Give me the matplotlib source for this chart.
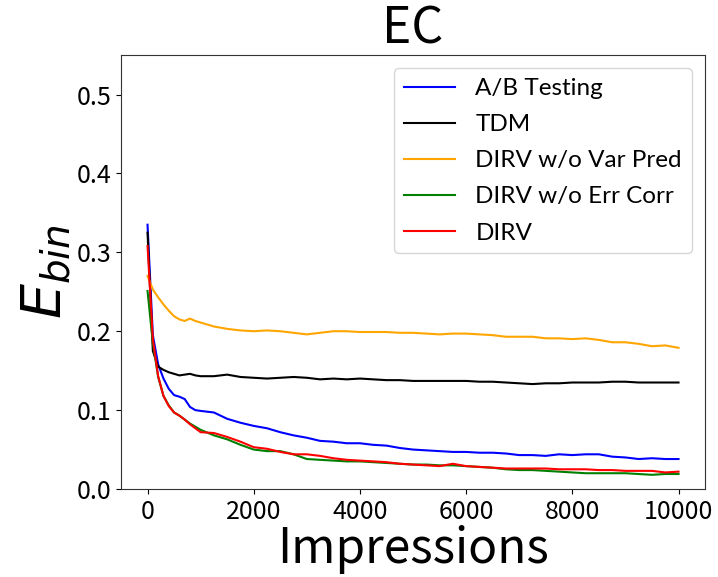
import matplotlib
matplotlib.use("Agg")
import matplotlib.pyplot as plt

impressions = [0, 100, 200, 300, 400, 500, 600, 700, 800, 900, 1000,
               1250, 1500, 1750, 2000, 2250, 2500, 2750, 3000, 3250, 3500,
               3750, 4000, 4250, 4500, 4750, 5000, 5250, 5500, 5750, 6000,
               6250, 6500, 6750, 7000, 7250, 7500, 7750, 8000, 8250, 8500,
               8750, 9000, 9250, 9500, 9750, 10000]

ab_testing = [0.335, 0.195, 0.158, 0.140, 0.127, 0.119, 0.117, 0.114, 0.104, 0.100, 0.099,
              0.097, 0.089, 0.084, 0.080, 0.077, 0.072, 0.068, 0.065, 0.061, 0.060,
              0.058, 0.058, 0.056, 0.055, 0.052, 0.050, 0.049, 0.048, 0.047, 0.047,
              0.046, 0.046, 0.045, 0.043, 0.043, 0.042, 0.044, 0.043, 0.044, 0.044,
              0.041, 0.040, 0.038, 0.039, 0.038, 0.038]

tdm = [0.325, 0.175, 0.155, 0.151, 0.148, 0.146, 0.144, 0.145, 0.146, 0.144, 0.143,
       0.143, 0.145, 0.142, 0.141, 0.140, 0.141, 0.142, 0.141, 0.139, 0.140,
       0.139, 0.140, 0.139, 0.138, 0.138, 0.137, 0.137, 0.137, 0.137, 0.137,
       0.136, 0.136, 0.135, 0.134, 0.133, 0.134, 0.134, 0.135, 0.135, 0.135,
       0.136, 0.136, 0.135, 0.135, 0.135, 0.135]

dirv_wo_var = [0.270, 0.253, 0.243, 0.234, 0.226, 0.219, 0.215, 0.213, 0.216, 0.213, 0.211,
               0.206, 0.203, 0.201, 0.200, 0.201, 0.200, 0.198, 0.196, 0.198, 0.200,
               0.200, 0.199, 0.199, 0.199, 0.198, 0.198, 0.197, 0.196, 0.197, 0.197,
               0.196, 0.195, 0.193, 0.193, 0.193, 0.191, 0.191, 0.190, 0.191, 0.189,
               0.186, 0.186, 0.184, 0.181, 0.182, 0.179]

dirv_wo_err = [0.251, 0.185, 0.142, 0.118, 0.106, 0.097, 0.093, 0.088, 0.083, 0.079, 0.075,
               0.068, 0.063, 0.056, 0.050, 0.048, 0.048, 0.044, 0.038, 0.037, 0.036,
               0.035, 0.035, 0.034, 0.033, 0.032, 0.031, 0.031, 0.030, 0.030, 0.029,
               0.028, 0.027, 0.025, 0.024, 0.024, 0.023, 0.022, 0.021, 0.020, 0.020,
               0.020, 0.020, 0.019, 0.018, 0.019, 0.019]

dirv = [0.308, 0.190, 0.143, 0.118, 0.105, 0.097, 0.093, 0.088, 0.082, 0.077, 0.072,
        0.071, 0.066, 0.060, 0.053, 0.051, 0.047, 0.044, 0.044, 0.042, 0.039,
        0.037, 0.036, 0.035, 0.034, 0.032, 0.031, 0.030, 0.029, 0.032, 0.029,
        0.028, 0.027, 0.026, 0.026, 0.026, 0.026, 0.025, 0.025, 0.025, 0.024,
        0.024, 0.023, 0.023, 0.023, 0.021, 0.022]

series = [
    ("A/B Testing", ab_testing, "blue"),
    ("TDM", tdm, "black"),
    ("DIRV w/o Var Pred", dirv_wo_var, "orange"),
    ("DIRV w/o Err Corr", dirv_wo_err, "green"),
    ("DIRV", dirv, "red"),
]

title = "EC"
xlabel = "Impressions"
ylabel = r"$E_{bin}$"

plt.rcParams['font.family'] = ['Noto Sans CJK JP', 'DejaVu Sans']

fig = plt.figure(figsize=(7.18, 5.77), dpi=100)
ax = fig.add_axes([0.1685, 0.1525, 0.8135, 0.752])

for label, vals, color in series:
    ax.plot(impressions, vals, color=color, lw=1.5, label=label)

ax.set_ylim(0, 0.55)
ax.set_yticks([0.0, 0.1, 0.2, 0.3, 0.4, 0.5])
ax.set_xticks([0, 2000, 4000, 6000, 8000, 10000])
ax.tick_params(labelsize=18)
for s in ax.spines.values():
    s.set_color("#333333")

ax.set_title(title, fontsize=36, pad=4)
ax.set_xlabel(xlabel, fontsize=34.5, labelpad=0)
ax.set_ylabel(ylabel, fontsize=40, labelpad=2)

leg = ax.legend(loc="upper right", prop={'family': 'Lato', 'size': 17.5},
                handlelength=2.1, handletextpad=0.85, labelspacing=0.62,
                borderaxespad=0.55)

fig.savefig("out.png", dpi=100)
